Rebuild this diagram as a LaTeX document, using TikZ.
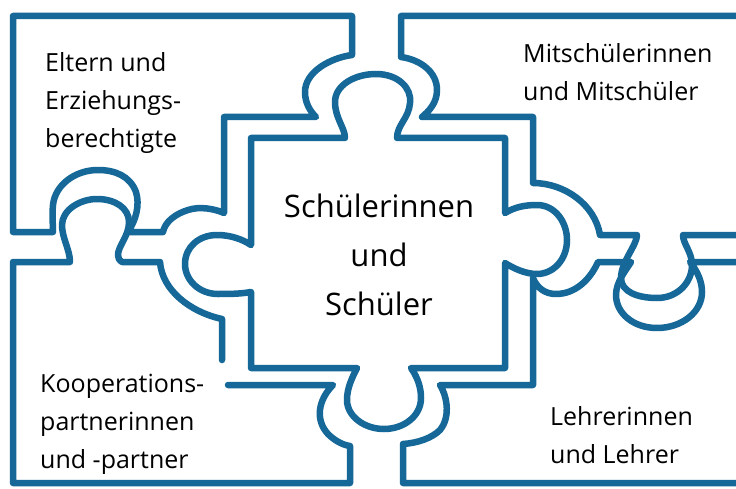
\documentclass[tikz,border=0pt]{standalone}
\usepackage{fontspec}
\setmainfont{Open Sans}
\definecolor{puzzleblue}{RGB}{22,104,152}

\begin{document}
\begin{tikzpicture}[x=1pt, y=-1pt,
    piece/.style={draw=puzzleblue, line width=6.5pt, line join=round, line cap=round},
    small/.style={anchor=north west, align=left, inner sep=0pt, font=\fontsize{25}{38}\selectfont},
    big/.style={align=center, inner sep=0pt, font=\fontsize{31}{49}\selectfont}]
    \useasboundingbox (0,0) rectangle (736,489);
    \fill[white] (0,0) rectangle (736,489);
    \draw[piece] (251,245) -- (251,138) -- (345,138)
        .. controls (345,128) and (335,118) .. (335,102)
        .. controls (335,85) and (355,74) .. (376,74)
        .. controls (398,74) and (412,88) .. (410,103)
        .. controls (409,118) and (397,125) .. (397,138)
        -- (505,138) -- (505,213)
        .. controls (515,207) and (525,205) .. (537,205)
        .. controls (555,205) and (567,222) .. (567,240)
        .. controls (567,260) and (553,274) .. (537,274)
        .. controls (525,274) and (513,268) .. (505,263)
        -- (505,368) -- (411,368)
        .. controls (418,378) and (421,388) .. (421,398)
        .. controls (421,416) and (404,429) .. (384,429)
        .. controls (364,429) and (347,416) .. (347,400)
        .. controls (347,388) and (352,378) .. (357,368)
        -- (251,368) -- (251,292)
        .. controls (240,294) and (228,294) .. (218,294)
        .. controls (199,294) and (185,280) .. (185,264)
        .. controls (185,247) and (199,235) .. (217,235)
        .. controls (230,235) and (242,239) .. (251,245)
        -- cycle;
    \draw[piece] (13,16) -- (352,16) -- (352,55)
        .. controls (330,58) and (305,72) .. (305,92)
        .. controls (305,103) and (310,111) .. (316,117)
        -- (224,117) -- (224,213)
        .. controls (215,209) and (200,206) .. (188,210)
        .. controls (175,214) and (165,222) .. (163,232)
        -- (128,232)
        .. controls (136,220) and (140,205) .. (136,192)
        .. controls (130,176) and (115,170) .. (98,170)
        .. controls (75,170) and (55,185) .. (53,205)
        .. controls (52,215) and (53,225) .. (53,232)
        -- (13,232) -- cycle;
    \draw[piece] (745,16) -- (401,16) -- (401,57)
        .. controls (422,60) and (437,73) .. (437,90)
        .. controls (437,103) and (429,111) .. (422,117)
        -- (533,117) -- (533,183)
        .. controls (565,183) and (595,205) .. (600,235)
        -- (637,235)
        .. controls (637,245) and (621,262) .. (621,278)
        .. controls (621,292) and (638,298) .. (657,298)
        .. controls (678,298) and (692,282) .. (692,265)
        .. controls (692,252) and (683,244) .. (683,235)
        -- (745,235);
    \draw[piece] (745,262) -- (690,262)
        .. controls (698,272) and (702,282) .. (702,292)
        .. controls (702,312) and (682,328) .. (657,328)
        .. controls (633,328) and (616,313) .. (616,295)
        .. controls (616,282) and (626,270) .. (631,262)
        -- (598,262)
        .. controls (590,280) and (575,294) .. (556,294)
        .. controls (545,294) and (537,288) .. (533,278)
        -- (533,385) -- (440,385)
        .. controls (448,398) and (450,418) .. (440,430)
        .. controls (432,438) and (418,443) .. (403,444)
        -- (403,483) -- (745,483);
    \draw[piece] (228,385) -- (333,385)
        .. controls (318,400) and (315,420) .. (328,434)
        .. controls (335,441) and (343,445) .. (350,446)
        -- (350,483) -- (13,483) -- (13,262) -- (70,262)
        .. controls (70,250) and (62,238) .. (62,225)
        .. controls (62,210) and (80,199) .. (97,199)
        .. controls (115,199) and (129,208) .. (129,222)
        .. controls (129,236) and (118,246) .. (118,255)
        .. controls (118,258) and (119,260) .. (122,262)
        -- (160,262)
        .. controls (162,290) and (190,312) .. (222,319)
        -- (222,360);
    \node[small] (eltern) at (45,52) {Eltern und\\Erziehungs-\\berechtigte};
    \node[small] (mitschueler) at (523,43) {Mitschülerinnen\\und Mitschüler};
    \node[big] (schueler) at (379,255) {Schülerinnen\\und\\Schüler};
    \node[small] (partner) at (40,374) {Kooperations-\\partnerinnen\\und -partner};
    \node[small] (lehrer) at (550,406) {Lehrerinnen\\und Lehrer};
\end{tikzpicture}
\end{document}
